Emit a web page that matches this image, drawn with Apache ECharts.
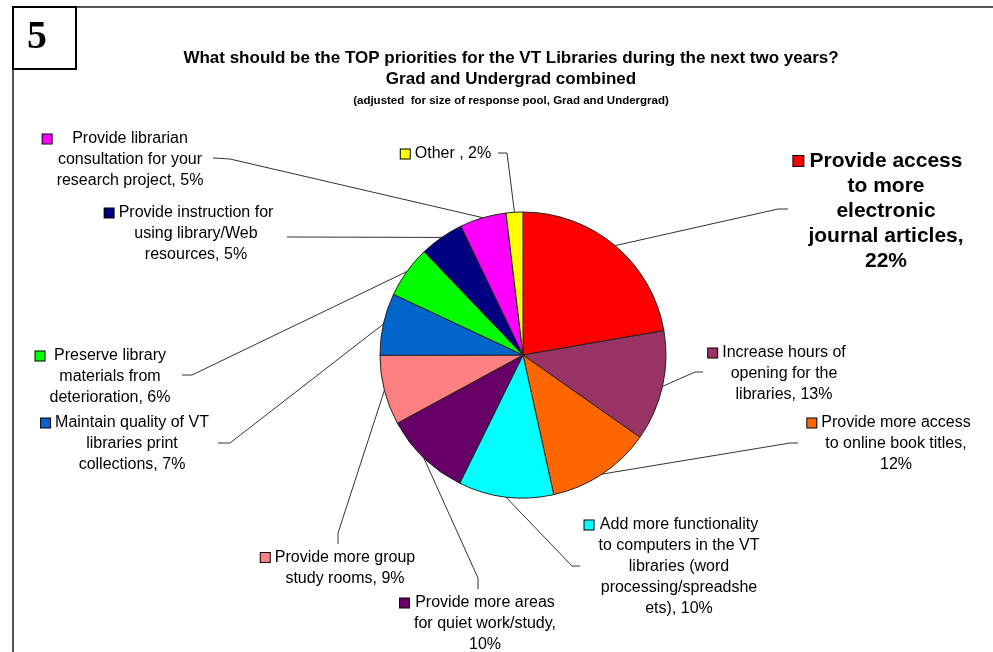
<!DOCTYPE html>
<html>
<head>
<meta charset="utf-8">
<script src="https://cdn.jsdelivr.net/npm/echarts@6/dist/echarts.min.js"></script>
<style>
html, body { margin: 0; padding: 0; background: #fff; }
#pie { width: 993px; height: 652px; }
</style>
</head>
<body>
<div id="pie"></div>
<script>
// slices, clockwise from 12 o'clock
const categories = [
  'Provide access to more electronic journal articles',
  'Increase hours of opening for the libraries',
  'Provide more access to online book titles',
  'Add more functionality to computers in the VT libraries (word processing/spreadsheets)',
  'Provide more areas for quiet work/study',
  'Provide more group study rooms',
  'Maintain quality of VT libraries print collections',
  'Preserve library materials from deterioration',
  'Provide instruction for using library/Web resources',
  'Provide librarian consultation for your research project',
  'Other'
];
// share of responses
const shares = [22.3, 12.5, 11.8, 10.75, 9.8, 7.9, 7.0, 5.9, 5.0, 5.25, 1.9];
// label texts as printed on the chart
const labels = [
  'Provide access\nto more\nelectronic\njournal articles,\n22%',
  'Increase hours of\nopening for the\nlibraries, 13%',
  'Provide more access\nto online book titles,\n12%',
  'Add more functionality\nto computers in the VT\nlibraries (word\nprocessing/spreadshe\nets), 10%',
  'Provide more areas\nfor quiet work/study,\n10%',
  'Provide more group\nstudy rooms, 9%',
  'Maintain quality of VT\nlibraries print\ncollections, 7%',
  'Preserve library\nmaterials from\ndeterioration, 6%',
  'Provide instruction for\nusing library/Web\nresources, 5%',
  'Provide librarian\nconsultation for your\nresearch project, 5%',
  'Other , 2%'
];
const colors = ['#FF0000', '#993366', '#FF6600', '#00FFFF', '#660066', '#FF8080',
                '#0066CC', '#00FF00', '#000080', '#FF00FF', '#FFFF00'];

const font = "'Liberation Sans', Arial, sans-serif";
const cx = 523, cy = 355, R = 143;

// centre of each label's text, plus the bend and end of its leader line
const place = [
  { x: 886, y: 211, elbow: [778, 209], end: [788, 209] },
  { x: 784, y: 374, elbow: [695, 372], end: [703, 372] },
  { x: 896, y: 444, elbow: [790, 443], end: [798, 443] },
  { x: 679, y: 567, elbow: [572, 566], end: [580, 566] },
  { x: 485, y: 624, elbow: [478, 578], end: [478, 589] },
  { x: 345, y: 568, elbow: [338, 533], end: [338, 544] },
  { x: 132, y: 444, elbow: [230, 443], end: [218, 443] },
  { x: 110, y: 377, elbow: [192, 375], end: [182, 375] },
  { x: 196, y: 234, elbow: [295, 237], end: [287, 237] },
  { x: 130, y: 160, elbow: [230, 159], end: [213, 158] },
  { x: 453, y: 154, elbow: [507, 153], end: [498, 153] }
];

const total = shares.reduce((a, b) => a + b, 0);
function edgePoint(i) {
  let before = 0;
  for (let k = 0; k < i; k++) before += shares[k];
  const a = (90 - 360 * (before + shares[i] / 2) / total) * Math.PI / 180;
  return [cx + R * Math.cos(a), cy - R * Math.sin(a)];
}

// measure text so the legend key can sit left of the centred first line
const ctx = document.createElement('canvas').getContext('2d');
function textWidth(s, f) { ctx.font = f; return ctx.measureText(s).width; }

function itemRich(i) {
  const big = i === 0;
  const f = big ? 'bold 21px ' + font : '16px ' + font;
  const lines = labels[i].split('\n');
  const W = Math.max.apply(null, lines.map(l => textWidth(l, f)));
  const w1 = textWidth(lines[0], f);
  const keyW = big ? 10 : 9;
  const gap = Math.max(2, (W - w1) / 2 + 5);
  return {
    k: { width: keyW, height: keyW, backgroundColor: colors[i], borderColor: '#000', borderWidth: 1 },
    g: { width: gap },
    p: { width: gap + keyW },
    big: { fontSize: 21, fontWeight: 'bold', lineHeight: 25, fontFamily: font, color: '#000' }
  };
}

const chart = echarts.init(document.getElementById('pie'));
chart.setOption({
  backgroundColor: '#fff',
  animation: false,
  title: {
    left: 506,
    top: 43,
    textAlign: 'center',
    text: '{a|What should be the TOP priorities for the VT Libraries during the next two years?}\n' +
          '{a|Grad and Undergrad combined}\n' +
          '{b|(adjusted  for size of response pool, Grad and Undergrad)}',
    textStyle: {
      rich: {
        a: { fontSize: 17, fontWeight: 'bold', lineHeight: 21, fontFamily: font, color: '#000' },
        b: { fontSize: 11.5, fontWeight: 'bold', lineHeight: 21, color: '#000',
             fontFamily: "'Liberation Sans Narrow', 'Liberation Sans', Arial, sans-serif" }
      }
    }
  },
  graphic: [
    { type: 'line', shape: { x1: 76, y1: 7, x2: 993, y2: 7 }, style: { stroke: '#555', lineWidth: 2 } },
    { type: 'line', shape: { x1: 13, y1: 69, x2: 13, y2: 652 }, style: { stroke: '#555', lineWidth: 2 } },
    { type: 'rect', shape: { x: 13, y: 7, width: 63, height: 62 },
      style: { fill: '#fff', stroke: '#000', lineWidth: 2 } },
    { type: 'text', x: 37, y: 38,
      style: { text: '5', fill: '#000', font: "bold 40px 'Liberation Serif', 'Times New Roman', serif",
               textAlign: 'center', textVerticalAlign: 'middle' } }
  ],
  series: [{
    type: 'pie',
    center: [cx, cy],
    radius: R,
    startAngle: 90,
    clockwise: true,
    minShowLabelAngle: 0,
    avoidLabelOverlap: false,
    itemStyle: { borderColor: '#222', borderWidth: 1 },
    label: {
      show: true,
      position: 'outside',
      color: '#000',
      fontFamily: font,
      fontSize: 16,
      lineHeight: 21,
      align: 'center',
      formatter: function (p) {
        const i = p.dataIndex;
        const lines = labels[i].split('\n');
        if (i === 0) {
          return lines.map((l, j) => j === 0 ? '{k|}{g|}{big|' + l + '}{p|}' : '{big|' + l + '}').join('\n');
        }
        lines[0] = '{k|}{g|}' + lines[0] + '{p|}';
        return lines.join('\n');
      }
    },
    labelLine: {
      show: true,
      smooth: false,
      lineStyle: { color: '#333', width: 1 }
    },
    labelLayout: function (params) {
      const i = params.dataIndex;
      const p = place[i];
      const start = (params.labelLinePoints && params.labelLinePoints[0]) || edgePoint(i);
      return {
        x: p.x,
        y: p.y,
        align: 'center',
        verticalAlign: 'middle',
        labelLinePoints: [start, p.elbow, p.end]
      };
    },
    data: categories.map((name, i) => ({
      name: name,
      value: shares[i],
      itemStyle: { color: colors[i] },
      label: { rich: itemRich(i) }
    }))
  }]
});
</script>
</body>
</html>
